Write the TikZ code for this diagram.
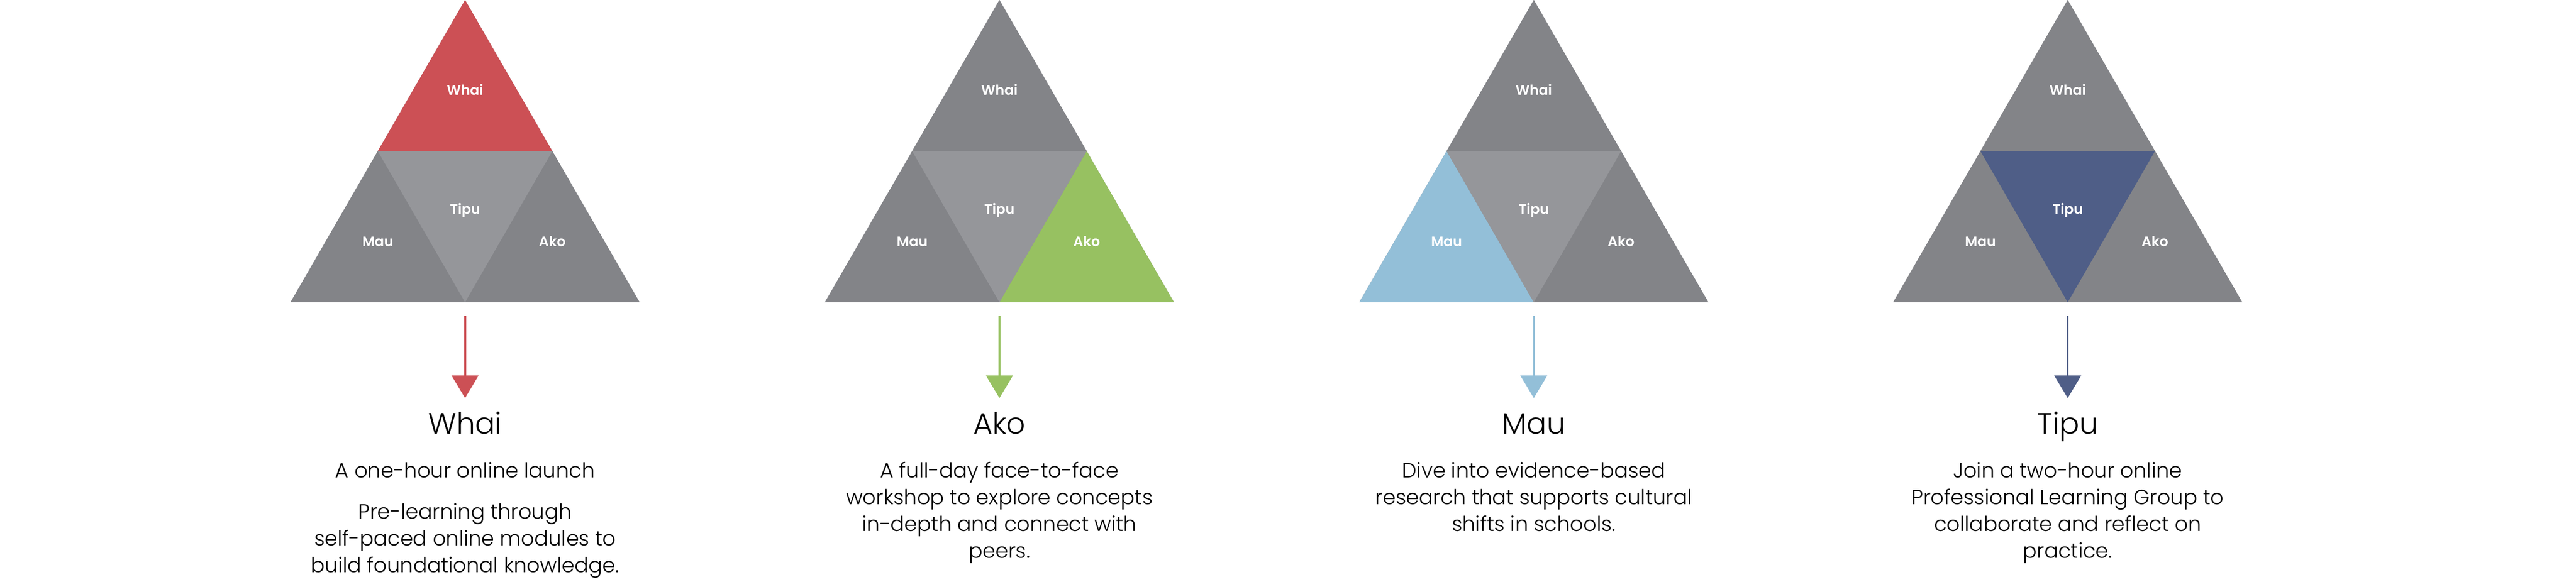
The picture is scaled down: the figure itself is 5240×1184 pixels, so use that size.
\documentclass[tikz,border=0pt]{standalone}
\usepackage{fontspec}
\setmainfont{Poppins}
\newfontfamily\plight{Poppins Light}
\newfontfamily\psemi{Poppins SemiBold}
\usetikzlibrary{arrows.meta}
\definecolor{outergray}{HTML}{838488}
\definecolor{innergray}{HTML}{95969A}
\definecolor{whaired}{HTML}{CC5055}
\definecolor{akogreen}{HTML}{97C161}
\definecolor{maublue}{HTML}{93BFD8}
\definecolor{tipunavy}{HTML}{4F5E87}
\setlength\tabcolsep{0pt}
\newcommand\trigroup[6]{% #1 cx, #2 id, #3 top, #4 left, #5 right, #6 centre
  \begin{scope}[shift={(#1,0)}]
    \fill[outergray] (0,0) -- (-355,615) -- (355,615) -- cycle;
    \fill[#3] (0,0) -- (-177.5,307.5) -- (177.5,307.5) -- cycle;
    \fill[#4] (-177.5,307.5) -- (-355,615) -- (0,615) -- cycle;
    \fill[#5] (177.5,307.5) -- (0,615) -- (355,615) -- cycle;
    \fill[#6] (-177.5,307.5) -- (177.5,307.5) -- (0,615) -- cycle;
    \node[tlabel] (whai#2) at (0,193.5) {Whai};
    \node[tlabel] (tipu#2) at (0,435) {Tipu};
    \node[tlabel] (mau#2) at (-177.5,501) {Mau};
    \node[tlabel] (ako#2) at (177.5,501) {Ako};
  \end{scope}}
\begin{document}
\begin{tikzpicture}[x=1pt,y=-1pt,
  tlabel/.style={font=\psemi\fontsize{28}{34}\selectfont,text=white,anchor=base,inner sep=0pt},
  titletext/.style={font=\plight\fontsize{60}{72}\selectfont,text=black,anchor=base,inner sep=0pt},
  desctext/.style={font=\plight\fontsize{42}{54.5}\selectfont,text=black,anchor=base,inner sep=0pt},
  arr/.style={draw=#1,line width=4pt,-{Triangle[width=54pt,length=46pt,fill=#1]}}]
\useasboundingbox[fill=white] (0,0) rectangle (5240,1184);

\trigroup{946}{1}{whaired}{outergray}{outergray}{innergray}
\trigroup{2033}{2}{outergray}{outergray}{akogreen}{innergray}
\trigroup{3120}{3}{outergray}{maublue}{outergray}{innergray}
\trigroup{4206}{4}{outergray}{outergray}{outergray}{tipunavy}

% arrows
\coordinate (s1) at (946,642);  \coordinate (e1) at (946,810);
\coordinate (s2) at (2033,642); \coordinate (e2) at (2033,810);
\coordinate (s3) at (3120,642); \coordinate (e3) at (3120,810);
\coordinate (s4) at (4206,642); \coordinate (e4) at (4206,810);
\draw[arr=whaired] (s1) -- (e1);
\draw[arr=akogreen] (s2) -- (e2);
\draw[arr=maublue] (s3) -- (e3);
\draw[arr=tipunavy] (s4) -- (e4);

% titles
\node[titletext] (t1) at (946,883) {Whai};
\node[titletext] (t2) at (2033,883) {Ako};
\node[titletext] (t3) at (3120,883) {Mau};
\node[titletext] (t4) at (4206,883) {Tipu};

% descriptions
\node[desctext] (d1a) at (946,972.5) {A one-hour online launch};
\node[desctext] (d1b) at (946,1055.5) {\begin{tabular}[t]{c}Pre-learning through\\self-paced online modules to\\build foundational knowledge.\end{tabular}};
\node[desctext] (d2) at (2033,972.5) {\begin{tabular}[t]{c}A full-day face-to-face\\workshop to explore concepts\\in-depth and connect with\\peers.\end{tabular}};
\node[desctext] (d3) at (3120,972.5) {\begin{tabular}[t]{c}Dive into evidence-based\\research that supports cultural\\shifts in schools.\end{tabular}};
\node[desctext] (d4) at (4206,972.5) {\begin{tabular}[t]{c}Join a two-hour online\\Professional Learning Group to\\collaborate and reflect on\\practice.\end{tabular}};
\end{tikzpicture}
\end{document}
